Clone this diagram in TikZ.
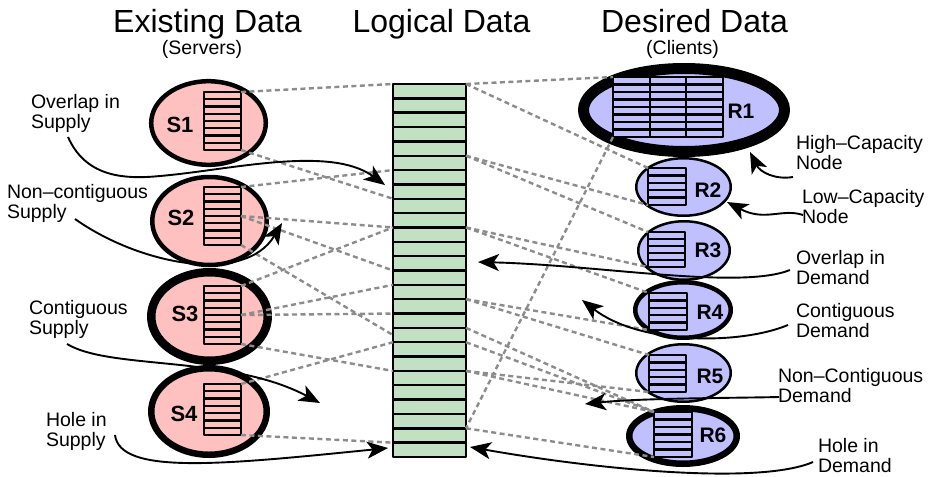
\documentclass[tikz,border=0pt]{standalone}
\usepackage{fontspec}
\setmainfont{Liberation Sans}
\usetikzlibrary{shapes.geometric,arrows.meta,calc}

\definecolor{srvfill}{RGB}{255,192,192}
\definecolor{clifill}{RGB}{192,192,255}
\definecolor{logfill}{RGB}{194,224,194}
\definecolor{mapgray}{RGB}{140,140,140}

% a block of stacked records: name, x1, y1, x2, y2, rows, fill colour
\newcommand{\datastack}[7]{%
  \coordinate (#1-nw) at (#2,#3);
  \coordinate (#1-ne) at (#4,#3);
  \coordinate (#1-sw) at (#2,#5);
  \coordinate (#1-se) at (#4,#5);
  \coordinate (#1-e) at (#4,{(#3+#5)/2});
  \draw[stackline,fill=#7] (#1-nw) rectangle (#1-se);
  \pgfmathsetmacro\rowh{(#5-#3)/#6}
  \pgfmathtruncatemacro\lastrow{#6-1}
  \foreach \k in {1,...,\lastrow} {\draw[stackline] (#2,{#3+\k*\rowh}) -- (#4,{#3+\k*\rowh});}
}

\begin{document}
\begin{tikzpicture}[x=1pt,y=-1pt,line join=round,
  every node/.style={inner sep=0pt,outer sep=0pt},
  title/.style={font=\fontsize{32}{36}\selectfont,anchor=base},
  subtitle/.style={font=\fontsize{19.5}{22}\selectfont,anchor=base},
  note/.style={font=\fontsize{19.5}{19.5}\selectfont,align=left,anchor=north west},
  tag/.style={font=\bfseries\fontsize{22}{24}\selectfont},
  ctag/.style={font=\bfseries\fontsize{21}{24}\selectfont},
  stackline/.style={draw=black,line width=2.4pt},
  holder/.style={ellipse,draw=black,inner sep=0pt},
  server/.style={holder,fill=srvfill},
  client/.style={holder,fill=clifill},
  mapline/.style={draw=mapgray,line width=2.4pt,dash pattern=on 5pt off 3.5pt},
  callout/.style={draw=black,line width=1.9pt,-{Stealth[length=21pt,width=17pt,inset=5.5pt]}},
]
\fill[white] (0,0) rectangle (930,477);
\useasboundingbox (0,0) rectangle (930,477);

% column headings
\node[title] (hexist) at (207.5,32) {Existing Data};
\node[subtitle] (hserv) at (202,54) {(Servers)};
\node[title] (hlog) at (441.5,32) {Logical Data};
\node[title] (hdes) at (694.5,32) {Desired Data};
\node[subtitle] (hcli) at (682.5,54) {(Clients)};

% servers
\node[server,line width=4.5pt,minimum width=114.6pt,minimum height=83.6pt] (s1) at (208.5,123) {};
\node[server,line width=4.5pt,minimum width=114.5pt,minimum height=88pt] (s2) at (209.5,221) {};
\node[server,line width=8.5pt,minimum width=116.5pt,minimum height=88.5pt] (s3) at (209.5,316.5) {};
\node[server,line width=6.5pt,minimum width=115.5pt,minimum height=86.5pt] (s4) at (209,411.5) {};
\datastack{s1st}{204}{92}{241}{150}{8}{srvfill}
\datastack{s2st}{204}{187}{241}{245}{8}{srvfill}
\datastack{s3st}{204}{286}{241}{344}{8}{srvfill}
\datastack{s4st}{204}{384}{241}{435}{7}{srvfill}
\node[tag] (s1l) at (180,125) {S1};
\node[tag] (s2l) at (181,218) {S2};
\node[tag] (s3l) at (185,314) {S3};
\node[tag] (s4l) at (184,414) {S4};

% clients
\node[client,line width=11pt,minimum width=201pt,minimum height=83pt] (r1) at (684,110) {};
\node[client,line width=2.5pt,minimum width=94.5pt,minimum height=57.5pt] (r2) at (683.5,187) {};
\node[client,line width=2.5pt,minimum width=91.5pt,minimum height=58.5pt] (r3) at (684,250.5) {};
\node[client,line width=4.5pt,minimum width=95.5pt,minimum height=55.5pt] (r4) at (683,310) {};
\node[client,line width=2.5pt,minimum width=94.5pt,minimum height=57.5pt] (r5) at (683.5,373) {};
\node[client,line width=6.5pt,minimum width=107.5pt,minimum height=55.5pt] (r6) at (683,436) {};
\datastack{r1a}{613}{77}{650}{137}{8}{clifill}
\datastack{r1b}{650}{77}{686}{137}{8}{clifill}
\datastack{r1c}{686}{77}{723}{137}{8}{clifill}
\datastack{r2st}{648}{168}{686}{205}{5}{clifill}
\datastack{r3st}{648}{232}{685}{267}{5}{clifill}
\datastack{r4st}{649}{293}{687}{330}{5}{clifill}
\datastack{r5st}{649}{355}{686}{392}{5}{clifill}
\datastack{r6st}{654}{412}{692}{457}{6}{clifill}
\node[ctag] (r1l) at (741,111) {R1};
\node[ctag] (r2l) at (708,190) {R2};
\node[ctag] (r3l) at (708,250) {R3};
\node[ctag] (r4l) at (710,312) {R4};
\node[ctag] (r5l) at (710,376) {R5};
\node[ctag] (r6l) at (713,435) {R6};

% logical data column
\datastack{col}{393}{84}{466}{457}{26}{logfill}
\foreach \k in {0,...,26} {
  \coordinate (cl\k) at (393,{84+\k*14.346});
  \coordinate (cr\k) at (466,{84+\k*14.346});
}
\coordinate (clmid) at ($(cl17)!0.5!(cl18)$);

% server-to-logical mappings
\draw[mapline] (s1st-ne) -- (cl0);
\draw[mapline] (s1st-se) -- (cl8);
\draw[mapline] (s2st-ne) -- (cl6);
\draw[mapline] (s2st-e) -- (cl10);
\draw[mapline] (s2st-e) -- (cl13);
\draw[mapline] (s2st-se) -- (clmid);
\draw[mapline] (s3st-ne) -- (cl10);
\draw[mapline] (s3st-e) -- (cl14);
\draw[mapline] (s3st-e) -- (cl16);
\draw[mapline] (s3st-se) -- (cl20);
\draw[mapline] (s4st-ne) -- (cl18);
\draw[mapline] (s4st-se) -- (cl25);

% logical-to-client mappings
\draw[mapline] (cr0) -- (r1a-nw);
\draw[mapline] (cr0) -- (r2st-nw);
\draw[mapline] (r1a-sw) -- (cr24);
\draw[mapline] (cr5) -- (r2st-sw);
\draw[mapline] (cr5) -- (r3st-nw);
\draw[mapline] (cr10) -- (r3st-sw);
\draw[mapline] (cr10) -- (r4st-nw);
\draw[mapline] (cr15) -- (r4st-sw);
\draw[mapline] (cr15) -- (r5st-nw);
\draw[mapline] (cr17) -- (r6st-nw);
\draw[mapline] (cr18) -- (r6st-nw);
\draw[mapline] (cr20) -- (r5st-sw);
\draw[mapline] (cr20) -- (r6st-nw);
\draw[mapline] (cr24) -- (r6st-sw);

% annotations
\node[note] (nos) at (31,94.6) {Overlap in\\Supply};
\node[note] (nncs) at (7,184.6) {Non--contiguous\\Supply};
\node[note] (ncs) at (29,300.6) {Contiguous\\Supply};
\node[note] (nhs) at (46,412.6) {Hole in\\Supply};
\node[note] (nhc) at (796,135.6) {High--Capacity\\Node};
\node[note] (nlc) at (802,189.6) {Low--Capacity\\Node};
\node[note] (nod) at (796,250.6) {Overlap in\\Demand};
\node[note] (ncd) at (796,303.6) {Contiguous\\Demand};
\node[note] (nncd) at (778,368.6) {Non--Contiguous\\Demand};
\node[note] (nhd) at (818,438.6) {Hole in\\Demand};

\coordinate (a1s) at (68,137);   \coordinate (a1t) at (385,185);
\coordinate (a2s) at (75,219);   \coordinate (a2t) at (282,223);
\coordinate (a3s) at (67,344);   \coordinate (a3t) at (320,403);
\coordinate (a4s) at (115,435);  \coordinate (a4t) at (388,448);
\coordinate (a5s) at (793,177);  \coordinate (a5t) at (750,152);
\coordinate (a6s) at (803,215);  \coordinate (a6t) at (727,202);
\coordinate (a7s) at (790,270);  \coordinate (a7t) at (478,262);
\coordinate (a8s) at (788,325);  \coordinate (a8t) at (582,300);
\coordinate (a9s) at (779,397);  \coordinate (a9t) at (585,404);
\coordinate (a10s) at (813,462); \coordinate (a10t) at (470,447);

\draw[callout] (a1s) .. controls (85,175) and (120,180) .. (160,176) .. controls (230,170) and (330,145) .. (a1t);
\draw[callout] (a2s) .. controls (140,265) and (245,285) .. (a2t);
\draw[callout] (a3s) .. controls (110,370) and (230,355) .. (a3t);
\draw[callout] (a4s) .. controls (120,475) and (220,465) .. (a4t);
\draw[callout] (a5s) .. controls (775,180) and (760,172) .. (a5t);
\draw[callout] (a6s) .. controls (782,208) and (765,222) .. (a6t);
\draw[callout] (a7s) .. controls (740,290) and (600,265) .. (a7t);
\draw[callout] (a8s) .. controls (740,345) and (640,345) .. (a8t);
\draw[callout] (a9s) .. controls (740,398) and (640,398) .. (a9t);
\draw[callout] (a10s) .. controls (760,485) and (600,470) .. (a10t);
\end{tikzpicture}
\end{document}
